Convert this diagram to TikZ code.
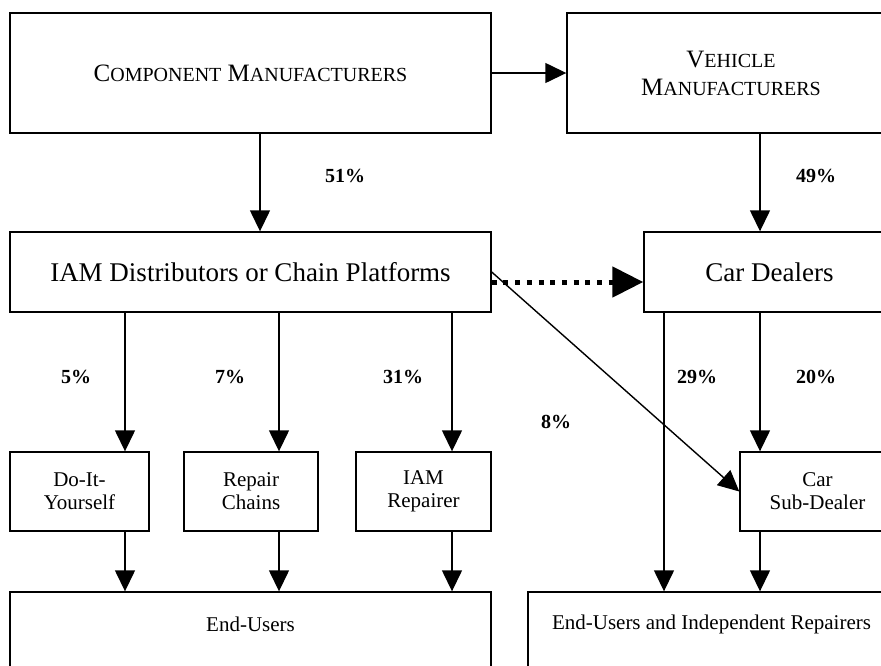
\documentclass[tikz,border=0pt]{standalone}
\usepackage{fontspec}
\setmainfont{Liberation Serif}
\usetikzlibrary{arrows.meta}
\newcommand\mysc[2]{{\fontsize{25}{28}\selectfont #1}{\fontsize{20}{28}\selectfont #2}}
\tikzset{
  box/.style={draw, line width=1.4pt, inner sep=0pt, align=center},
  sctxt/.style={font=\fontsize{25}{28}\selectfont},
  bigtxt/.style={font=\fontsize{27}{30}\selectfont},
  smalltxt/.style={font=\fontsize{21}{23}\selectfont},
  pct/.style={font=\fontsize{20}{23}\selectfont\bfseries, inner sep=0pt},
  arr/.style={line width=1.4pt, -{Triangle[length=21pt,width=20pt]}},
  dotarr/.style={line width=5pt, dash pattern=on 5pt off 6.7pt,
    -{Triangle[length=31pt,width=30pt]}, shorten >=0pt},
}
\begin{document}
\begin{tikzpicture}[x=1pt,y=-1pt]
\useasboundingbox (0,0) rectangle (881,665);
% column coordinates
\coordinate (c125) at (125,0);
\coordinate (c260) at (260,0);
\coordinate (c279) at (279,0);
\coordinate (c452) at (452,0);
\coordinate (c664) at (664,0);
\coordinate (c760) at (760,0);
% boxes
\node[box, sctxt, minimum width=481pt, minimum height=120pt] (comp) at (250.5,73)
  {\mysc{C}{OMPONENT} \mysc{M}{ANUFACTURERS}};
\node[box, sctxt, minimum width=328pt, minimum height=120pt] (veh) at (731,73)
  {\mysc{V}{EHICLE}\\\mysc{M}{ANUFACTURERS}};
\node[box, bigtxt, minimum width=481pt, minimum height=80pt] (iam) at (250.5,272)
  {IAM Distributors or Chain Platforms};
\node[box, bigtxt, minimum width=251pt, minimum height=80pt] (cd) at (769.5,272)
  {Car Dealers};
\node[box, smalltxt, minimum width=139pt, minimum height=79pt] (diy) at (79.5,491.5)
  {Do-It-\\Yourself};
\node[box, smalltxt, minimum width=134pt, minimum height=79pt] (rc) at (251,491.5)
  {Repair\\Chains};
\node[box, smalltxt, minimum width=135pt, minimum height=79pt] (iamr) at (423.5,491.5)
  {IAM\\Repairer};
\node[box, smalltxt, minimum width=155pt, minimum height=79pt] (sub) at (817.5,491.5)
  {Car\\Sub-Dealer};
\node[box, minimum width=481pt, minimum height=120pt] (eu) at (250.5,652) {};
\node[box, minimum width=367pt, minimum height=120pt] (euir) at (711.5,652) {};
\node[smalltxt] (eut) at (250.5,624) {End-Users};
\node[smalltxt] (euirt) at (711.5,624) {End-Users and Independent Repairers};
% connectors
\draw[arr] (comp.east) -- (veh.west);
\draw[arr] (comp.south -| c260) -- (iam.north -| c260);
\draw[arr] (veh.south -| c760) -- (cd.north -| c760);
\draw[dotarr] ([yshift=-10pt]iam.east) -- ([yshift=-10pt]cd.west);
\draw[arr] (iam.east) -- (sub.west);
\draw[arr] (iam.south -| c125) -- (diy.north -| c125);
\draw[arr] (iam.south -| c279) -- (rc.north -| c279);
\draw[arr] (iam.south -| c452) -- (iamr.north -| c452);
\draw[arr] (diy.south -| c125) -- (eu.north -| c125);
\draw[arr] (rc.south -| c279) -- (eu.north -| c279);
\draw[arr] (iamr.south -| c452) -- (eu.north -| c452);
\draw[arr] (cd.south -| c664) -- (euir.north -| c664);
\draw[arr] (cd.south -| c760) -- (sub.north -| c760);
\draw[arr] (sub.south -| c760) -- (euir.north -| c760);
% labels
\node[pct] (p51) at (345,176) {51\%};
\node[pct] (p49) at (816,176) {49\%};
\node[pct] (p5) at (76,377) {5\%};
\node[pct] (p7) at (230,377) {7\%};
\node[pct] (p31) at (403,377) {31\%};
\node[pct] (p29) at (697,377) {29\%};
\node[pct] (p20) at (816,377) {20\%};
\node[pct] (p8) at (556,422) {8\%};
\end{tikzpicture}
\end{document}
